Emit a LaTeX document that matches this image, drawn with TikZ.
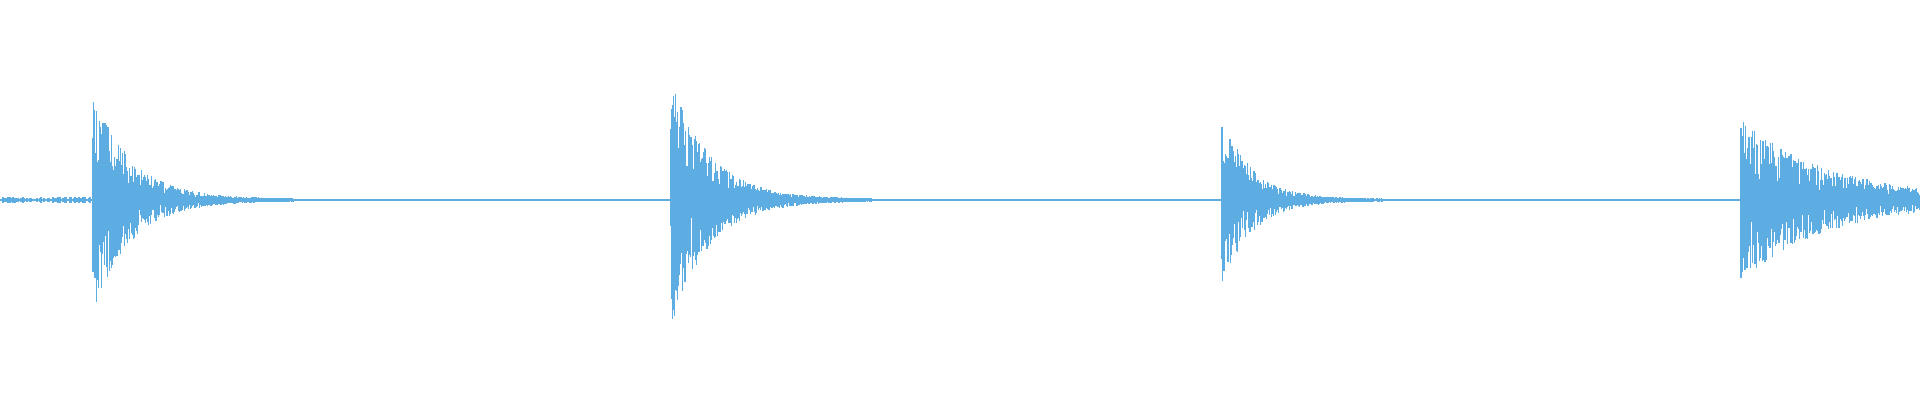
\documentclass[tikz,border=0pt]{standalone}
\definecolor{wavecol}{RGB}{93,173,226}
\tikzset{wave/.style={draw=wavecol, line width=0.35pt}}
% one decaying burst: start, peak, decay, length
\newcommand\burst[4]{%
  \foreach \t in {0,0.004,...,#4}{%
    \pgfmathsetmacro\up{#2*exp(-\t/#3)*(0.3+0.7*rnd)^1.5+0.012}
    \pgfmathsetmacro\dn{#2*exp(-\t/#3)*(0.3+0.7*rnd)^1.5+0.012}
    \draw[wave] (#1+\t,2+\up) -- (#1+\t,2-\dn);
  }}
\begin{document}
\begin{tikzpicture}
\useasboundingbox (0,0) rectangle (19.2,4);
\pgfmathsetseed{42}
% baseline
\draw[wave] (0,2) -- (19.2,2);
\foreach \t in {0,0.01,...,0.9}{
  \pgfmathsetmacro\a{0.025*rnd+0.005}
  \draw[wave] (\t,2+\a) -- (\t,2-\a);
}
% bursts
\burst{0.93}{1.1}{0.38}{2.0}
\burst{6.71}{1.25}{0.38}{2.0}
\burst{12.22}{0.85}{0.3}{1.6}
\burst{17.41}{0.8}{0.9}{1.79}
\end{tikzpicture}
\end{document}
